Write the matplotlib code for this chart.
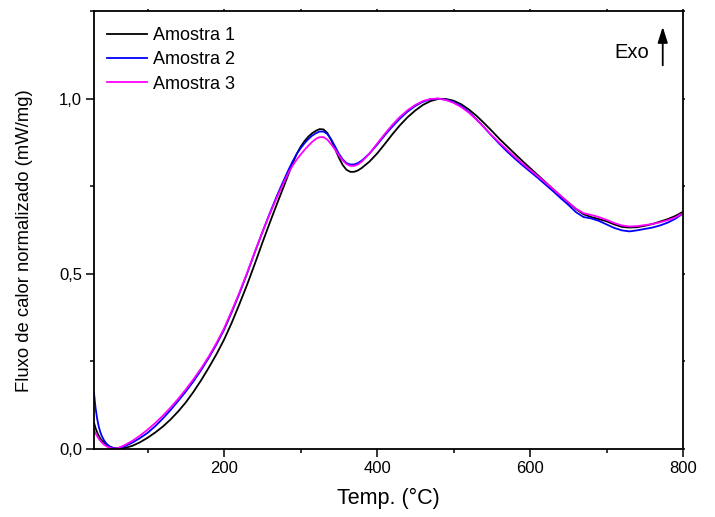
import matplotlib
matplotlib.use("Agg")
import matplotlib.pyplot as plt
from matplotlib.ticker import MultipleLocator, FuncFormatter

plt.rcParams['font.family'] = ['Liberation Sans', 'DejaVu Sans']

temp = [30, 32, 34, 36, 38, 40, 43, 46, 50, 55,
        60, 65, 70, 80, 90, 100, 110, 120, 130, 140,
        150, 160, 170, 180, 190, 200, 210, 220, 230, 240,
        250, 260, 270, 275, 280, 285, 290, 295, 300, 305,
        310, 315, 320, 325, 330, 335, 340, 345, 350, 355,
        360, 365, 370, 375, 380, 390, 400, 410, 420, 430,
        440, 450, 460, 470, 480, 490, 500, 510, 520, 530,
        540, 550, 560, 570, 580, 590, 600, 610, 620, 630,
        640, 650, 660, 670, 680, 690, 700, 710, 720, 730,
        740, 750, 760, 770, 780, 790, 800]

amostra1 = [0.075, 0.060, 0.048, 0.039, 0.031, 0.025, 0.018, 0.012, 0.007, 0.003,
            0.001, 0.001, 0.003, 0.009, 0.019, 0.032, 0.047, 0.064, 0.084, 0.107,
            0.133, 0.163, 0.196, 0.232, 0.270, 0.312, 0.360, 0.413, 0.468, 0.527,
            0.588, 0.647, 0.704, 0.732, 0.760, 0.789, 0.817, 0.842, 0.862, 0.878,
            0.891, 0.901, 0.908, 0.913, 0.912, 0.902, 0.882, 0.857, 0.832, 0.811,
            0.797, 0.791, 0.791, 0.795, 0.802, 0.820, 0.843, 0.870, 0.898, 0.924,
            0.947, 0.966, 0.982, 0.993, 0.999, 0.999, 0.994, 0.984, 0.969, 0.951,
            0.930, 0.908, 0.885, 0.864, 0.843, 0.822, 0.802, 0.782, 0.762, 0.742,
            0.722, 0.703, 0.685, 0.670, 0.662, 0.656, 0.650, 0.641, 0.634, 0.632,
            0.633, 0.637, 0.642, 0.649, 0.656, 0.665, 0.677]

amostra2 = [0.160, 0.118, 0.088, 0.066, 0.050, 0.038, 0.025, 0.016, 0.008, 0.003,
            0.002, 0.004, 0.008, 0.018, 0.031, 0.046, 0.065, 0.087, 0.111, 0.137,
            0.164, 0.193, 0.225, 0.260, 0.298, 0.340, 0.390, 0.443, 0.500, 0.560,
            0.618, 0.674, 0.727, 0.752, 0.776, 0.800, 0.822, 0.842, 0.858, 0.872,
            0.884, 0.894, 0.901, 0.906, 0.906, 0.899, 0.884, 0.864, 0.843, 0.827,
            0.816, 0.812, 0.812, 0.816, 0.823, 0.843, 0.868, 0.895, 0.920, 0.943,
            0.963, 0.979, 0.991, 0.998, 1.000, 0.997, 0.990, 0.979, 0.962, 0.941,
            0.918, 0.894, 0.871, 0.849, 0.829, 0.810, 0.792, 0.774, 0.755, 0.736,
            0.716, 0.697, 0.676, 0.662, 0.658, 0.651, 0.641, 0.631, 0.624, 0.621,
            0.624, 0.628, 0.632, 0.638, 0.646, 0.657, 0.672]

amostra3 = [0.055, 0.045, 0.037, 0.030, 0.024, 0.019, 0.013, 0.008, 0.004, 0.001,
            0.002, 0.006, 0.011, 0.023, 0.038, 0.055, 0.074, 0.095, 0.118, 0.143,
            0.170, 0.199, 0.230, 0.264, 0.302, 0.344, 0.394, 0.446, 0.502, 0.561,
            0.618, 0.672, 0.722, 0.746, 0.769, 0.791, 0.810, 0.826, 0.840, 0.853,
            0.865, 0.876, 0.885, 0.890, 0.890, 0.883, 0.870, 0.855, 0.838, 0.824,
            0.813, 0.808, 0.808, 0.812, 0.820, 0.843, 0.871, 0.899, 0.925, 0.948,
            0.967, 0.982, 0.993, 0.999, 1.000, 0.996, 0.988, 0.976, 0.960, 0.940,
            0.918, 0.895, 0.874, 0.854, 0.834, 0.815, 0.797, 0.779, 0.761, 0.742,
            0.723, 0.704, 0.686, 0.673, 0.668, 0.662, 0.654, 0.645, 0.638, 0.635,
            0.636, 0.639, 0.642, 0.647, 0.653, 0.661, 0.673]

labels = ['Amostra 1', 'Amostra 2', 'Amostra 3']
colors = ['#000000', '#0000FF', '#FF00FF']

fig = plt.figure(figsize=(7.15, 5.17), dpi=100)
ax = fig.add_axes([94/715, 68/517, (683-94)/715, (449-11)/517])

for ys, lab, c in zip([amostra1, amostra2, amostra3], labels, colors):
    ax.plot(temp, ys, color=c, lw=1.3, label=lab, solid_joinstyle='round')

ax.set_xlim(30, 800)
ax.set_ylim(0, 1.25)
ax.xaxis.set_major_locator(MultipleLocator(200))
ax.xaxis.set_minor_locator(MultipleLocator(100))
ax.yaxis.set_major_locator(MultipleLocator(0.5))
ax.yaxis.set_minor_locator(MultipleLocator(0.25))
ax.yaxis.set_major_formatter(FuncFormatter(lambda v, p: f"{v:.1f}".replace('.', ',')))

ax.tick_params(which='major', direction='out', length=5.5, width=1.1, labelsize=12, pad=3)
ax.tick_params(which='minor', direction='out', length=3, width=1.1)
ax.tick_params(which='both', top=True, right=True)
for t in ax.xaxis.get_major_ticks() + ax.xaxis.get_minor_ticks():
    t.tick2line.set_markersize(1.5)
for t in ax.yaxis.get_major_ticks() + ax.yaxis.get_minor_ticks():
    t.tick2line.set_markersize(1.5)
for s in ax.spines.values():
    s.set_linewidth(1.3)

ax.set_xlabel('Temp. (°C)', fontsize=15.5)
ax.xaxis.set_label_coords(0.5, (449 - 488) / 438)
ax.set_ylabel('Fluxo de calor normalizado (mW/mg)', fontsize=13.3)
ax.yaxis.set_label_coords((33 - 94) / 589, (449 - 241) / 438)

leg = ax.legend(loc='upper left', frameon=False, fontsize=13, handlelength=2.2,
                handletextpad=0.33, labelspacing=0.4, borderaxespad=0.5,
                bbox_to_anchor=(-3 / 589, 1.0))

ax.text(733, 1.117, 'Exo', fontsize=14.5, ha='center', va='baseline')
ax.annotate('', xy=(773.5, 1.205), xytext=(773.5, 1.095),
            arrowprops=dict(arrowstyle='-|>,head_length=0.95,head_width=0.3',
                            color='black', lw=1.3, shrinkA=0, shrinkB=0,
                            mutation_scale=10))

fig.savefig('out.png', dpi=100)
